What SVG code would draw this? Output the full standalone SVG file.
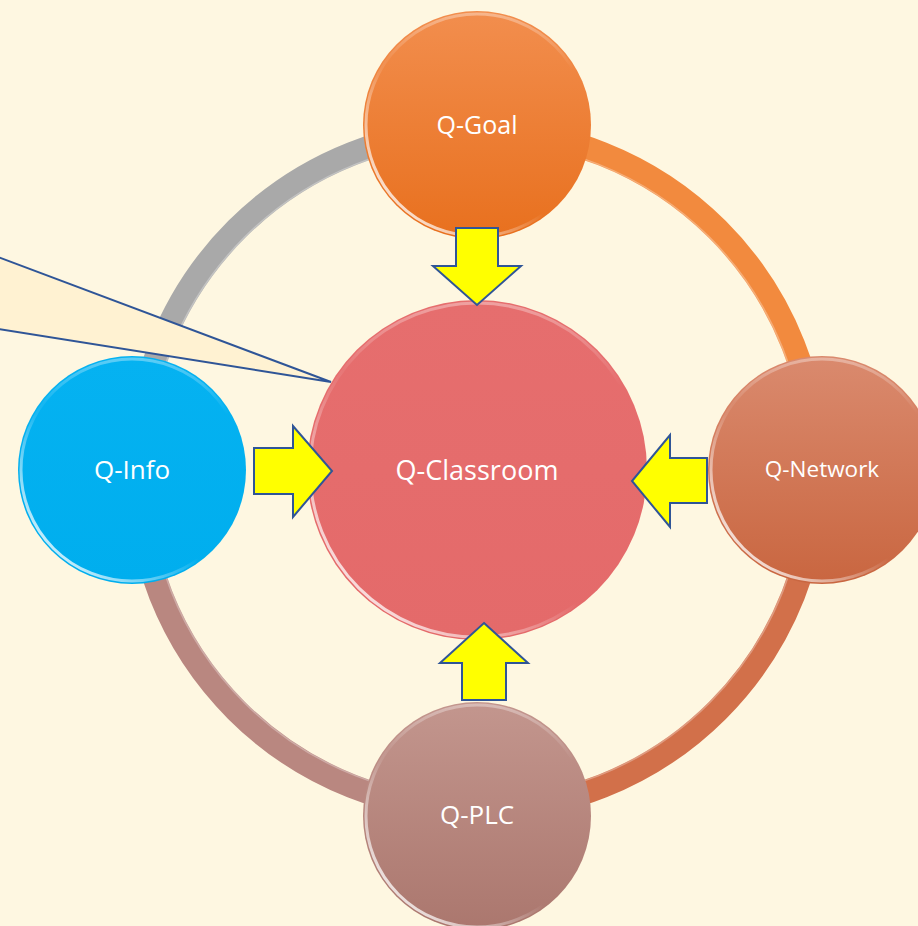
<svg xmlns="http://www.w3.org/2000/svg" width="918" height="926" viewBox="0 0 918 926">
  <defs>
    <style>
      .ring { fill: none; stroke-width: 24; }
      .ringhl { fill: none; stroke: #ffffff; stroke-opacity: 0.3; stroke-width: 1.5; }
      .bevel { fill: none; stroke-width: 3; }
      .lbl { font-family: "Open Sans", "Liberation Sans", sans-serif; fill: #ffffff; text-anchor: middle; }
      .arrow { fill: #FFFF00; stroke: #2F5597; stroke-width: 2; stroke-linejoin: miter; }
    </style>
    <linearGradient id="gGoal" x1="0" y1="0" x2="0" y2="1">
      <stop offset="0" stop-color="#F28E4E"/>
      <stop offset="1" stop-color="#E8701E"/>
    </linearGradient>
    <linearGradient id="gNet" x1="0" y1="0" x2="0" y2="1">
      <stop offset="0" stop-color="#DA8A6E"/>
      <stop offset="1" stop-color="#C96640"/>
    </linearGradient>
    <linearGradient id="gPlc" x1="0" y1="0" x2="0" y2="1">
      <stop offset="0" stop-color="#C3968E"/>
      <stop offset="1" stop-color="#AB776E"/>
    </linearGradient>
    <linearGradient id="gInfo" x1="0" y1="0" x2="0" y2="1">
      <stop offset="0" stop-color="#05B2F1"/>
      <stop offset="1" stop-color="#00AEEE"/>
    </linearGradient>
    <linearGradient id="gClass" x1="0" y1="0" x2="0" y2="1">
      <stop offset="0" stop-color="#E66E6E"/>
      <stop offset="1" stop-color="#E46A6A"/>
    </linearGradient>
    <linearGradient id="gBevel" x1="1" y1="0" x2="0" y2="1">
      <stop offset="0" stop-color="#ffffff" stop-opacity="0"/>
      <stop offset="0.55" stop-color="#ffffff" stop-opacity="0"/>
      <stop offset="0.85" stop-color="#ffffff" stop-opacity="0.75"/>
      <stop offset="1" stop-color="#ffffff" stop-opacity="0.3"/>
    </linearGradient>
    <linearGradient id="gTopHl" x1="0" y1="0" x2="0" y2="1">
      <stop offset="0" stop-color="#ffffff" stop-opacity="0.35"/>
      <stop offset="0.25" stop-color="#ffffff" stop-opacity="0"/>
      <stop offset="1" stop-color="#ffffff" stop-opacity="0"/>
    </linearGradient>
  </defs>

  <rect x="0" y="0" width="918" height="926" fill="#FEF7E1"/>

  <g id="connectors">
    <path class="ring" stroke="#A9A9A9" d="M137,470 A340,340 0 0 1 477,130"/>
    <path class="ring" stroke="#F28A3E" d="M477,130 A340,340 0 0 1 817,470"/>
    <path class="ring" stroke="#D2704A" d="M817,470 A340,340 0 0 1 477,810"/>
    <path class="ring" stroke="#B98780" d="M477,810 A340,340 0 0 1 137,470"/>
    <circle class="ringhl" cx="477" cy="470" r="329"/>
  </g>

  <g id="q-classroom">
    <circle cx="477" cy="470" r="170" fill="url(#gClass)"/>
    <circle class="bevel" cx="477" cy="470" r="167" stroke="url(#gBevel)"/>
    <circle class="bevel" cx="477" cy="470" r="167" stroke="url(#gTopHl)"/>
    <text class="lbl" x="477" y="480" font-size="27">Q-Classroom</text>
  </g>

  <g id="q-goal">
    <circle cx="477" cy="125" r="114" fill="url(#gGoal)"/>
    <circle class="bevel" cx="477" cy="125" r="111" stroke="url(#gBevel)"/>
    <circle class="bevel" cx="477" cy="125" r="111" stroke="url(#gTopHl)"/>
    <text class="lbl" x="477" y="134" font-size="25">Q-Goal</text>
  </g>

  <g id="q-network">
    <circle cx="822" cy="470" r="114" fill="url(#gNet)"/>
    <circle class="bevel" cx="822" cy="470" r="111" stroke="url(#gBevel)"/>
    <circle class="bevel" cx="822" cy="470" r="111" stroke="url(#gTopHl)"/>
    <text class="lbl" x="822" y="477" font-size="22.5">Q-Network</text>
  </g>

  <g id="q-plc">
    <circle cx="477" cy="816" r="114" fill="url(#gPlc)"/>
    <circle class="bevel" cx="477" cy="816" r="111" stroke="url(#gBevel)"/>
    <circle class="bevel" cx="477" cy="816" r="111" stroke="url(#gTopHl)"/>
    <text class="lbl" x="477" y="824" font-size="26">Q-PLC</text>
  </g>

  <g id="q-info">
    <circle cx="132" cy="470" r="114" fill="url(#gInfo)"/>
    <circle class="bevel" cx="132" cy="470" r="111" stroke="url(#gBevel)"/>
    <circle class="bevel" cx="132" cy="470" r="111" stroke="url(#gTopHl)"/>
    <text class="lbl" x="132" y="479" font-size="26">Q-Info</text>
  </g>

  <g id="arrows">
    <polygon class="arrow" points="456,228 498,228 498,266 521,266 477,305 433,266 456,266"/>
    <polygon class="arrow" points="254,448 293,448 293,426 332,471 293,517 293,494 254,494"/>
    <polygon class="arrow" points="707,458 670,458 670,435 632,481 670,527 670,503 707,503"/>
    <polygon class="arrow" points="484,623 528,663 506,663 506,700 462,700 462,663 440,663"/>
  </g>

  <g id="callout">
    <polygon points="-2,257 331,382 -2,329" fill="#FFF2D2" stroke="none"/>
    <polyline points="-2,257 331,382 -2,329" fill="none" stroke="#2F5597" stroke-width="2" stroke-linejoin="miter"/>
  </g>
</svg>
